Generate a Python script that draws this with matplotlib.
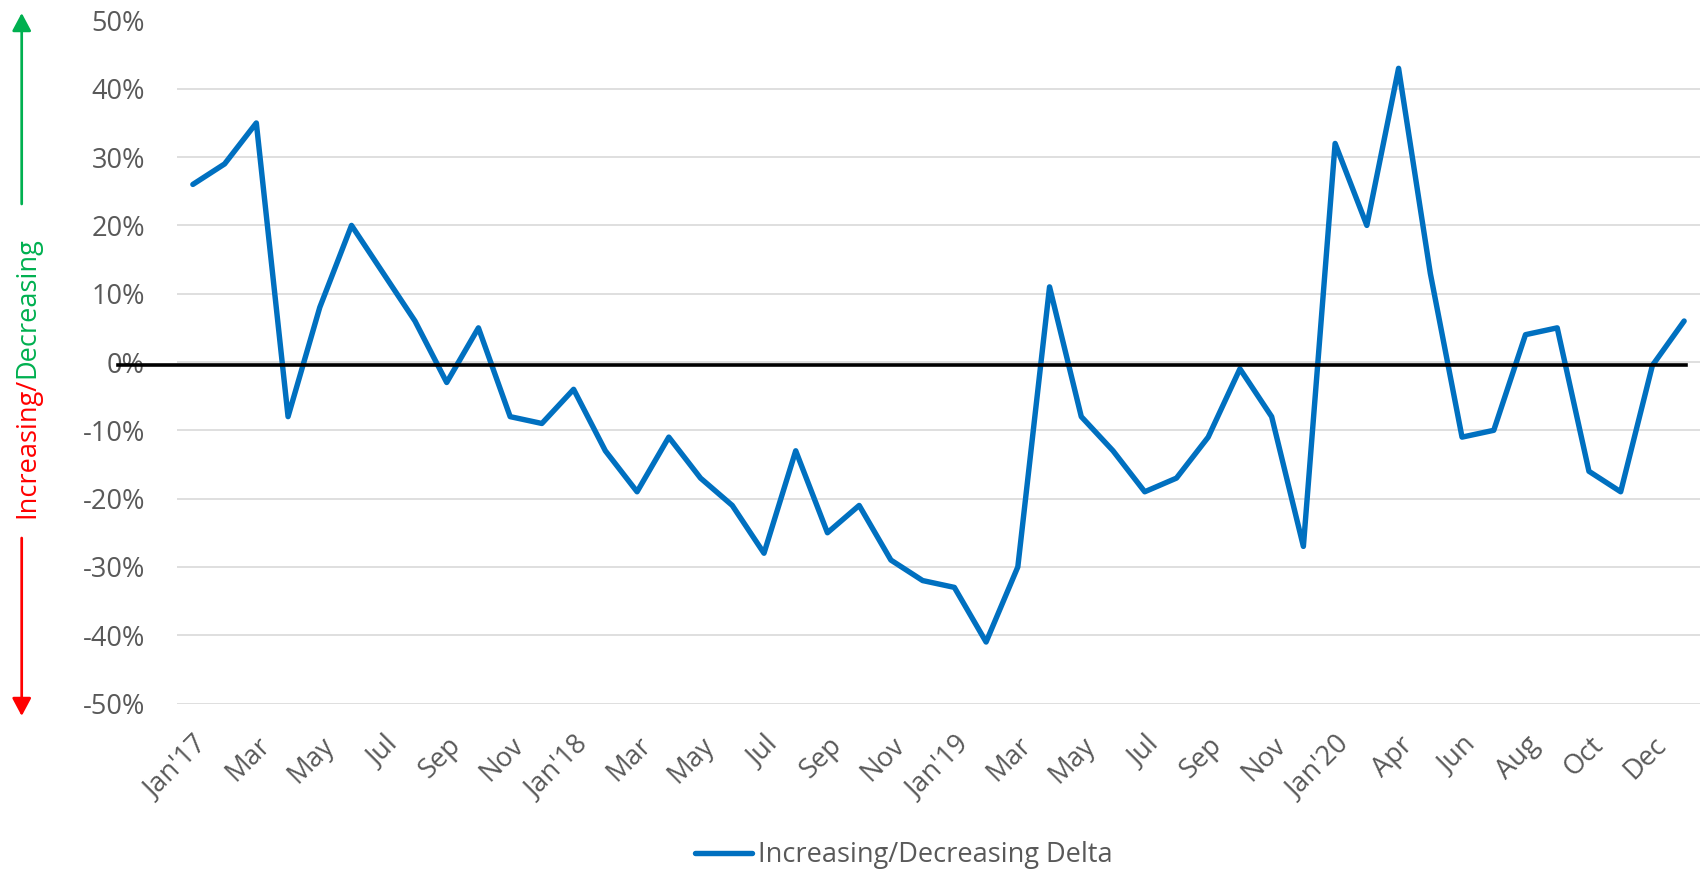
import matplotlib
matplotlib.use("Agg")
import matplotlib.pyplot as plt
from matplotlib.ticker import FuncFormatter, FixedLocator
import matplotlib.transforms as mtransforms

# ---- data ----
months = ["Jan'17", "Feb", "Mar", "Apr", "May", "Jun", "Jul", "Aug", "Sep", "Oct", "Nov", "Dec",
          "Jan'18", "Feb", "Mar", "Apr", "May", "Jun", "Jul", "Aug", "Sep", "Oct", "Nov", "Dec",
          "Jan'19", "Feb", "Mar", "Apr", "May", "Jun", "Jul", "Aug", "Sep", "Oct", "Nov", "Dec",
          "Jan'20", "Feb", "Apr", "May", "Jun", "Jul", "Aug", "Sep", "Oct", "Nov", "Dec", "Jan'21"]
delta = [26, 29, 35, -8, 8, 20, 13, 6, -3, 5, -8, -9,
         -4, -13, -19, -11, -17, -21, -28, -13, -25, -21, -29, -32,
         -33, -41, -30, 11, -8, -13, -19, -17, -11, -1, -8, -27,
         32, 20, 43, 13, -11, -10, 4, 5, -16, -19, -0.5, 6]
y_ticks = [50, 40, 30, 20, 10, 0, -10, -20, -30, -40, -50]
series_name = "Increasing/Decreasing Delta"
zero_ref = -0.4

plt.rcParams['font.family'] = ['Open Sans', 'DejaVu Sans']
FS = 19.5
GRAY = '#595959'

W, H = 1702, 872
fig = plt.figure(figsize=(W / 100, H / 100), dpi=100)
ax = fig.add_axes([177 / W, 1 - 703.5 / H, (1700 - 177) / W, (703.5 - 20.5) / H])

x = list(range(len(delta)))
line, = ax.plot(x, delta, color='#0070C0', lw=3.9, solid_joinstyle='round',
                solid_capstyle='round', label=series_name, zorder=3)

ax.set_xlim(-0.5, len(delta) - 0.5)
ax.set_ylim(min(y_ticks), max(y_ticks))
ax.yaxis.set_major_locator(FixedLocator(y_ticks))
ax.yaxis.set_major_formatter(FuncFormatter(lambda v, p: f"{v:.0f}%"))
ax.grid(axis='y', color='#D9D9D9', lw=1.2, zorder=0)
ax.set_axisbelow(True)
for s in ax.spines.values():
    s.set_visible(False)

tick_idx = list(range(0, len(months) - 1, 2))
ax.set_xticks(tick_idx)
ax.set_xticklabels([months[i] for i in tick_idx], rotation=45, ha='right',
                   rotation_mode='anchor', fontsize=FS, color=GRAY)
ax.tick_params(axis='x', length=0, pad=20)
ax.tick_params(axis='y', length=0, pad=23, labelsize=FS, labelcolor=GRAY)

# black reference line near zero
trans = mtransforms.blended_transform_factory(ax.transAxes, ax.transData)
ax.plot([-0.0387, 0.9908], [zero_ref, zero_ref], color='black', lw=2.6,
        transform=trans, clip_on=False, zorder=4)

# legend
fig.legend(handles=[line], loc='center', bbox_to_anchor=(0.531, 0.019),
           frameon=False, fontsize=FS, handlelength=2.1, handletextpad=0.2,
           borderpad=0, labelcolor=GRAY)

# left annotation
red_t = fig.text(27 / W, 1 - 518 / H, "Increasing/", rotation=90, color='#FF0000',
                 ha='center', va='bottom', fontsize=FS)
ax.annotate("Decreasing", xy=(0.5, 1.0), xycoords=red_t, rotation=90,
            color='#00B050', ha='center', va='bottom', fontsize=FS,
            annotation_clip=False)

ax.annotate('', xy=(21.7, H - 13), xycoords='figure pixels',
            xytext=(21.7, H - 204), textcoords='figure pixels',
            arrowprops=dict(arrowstyle='-|>,head_length=1.08,head_width=0.576',
                            mutation_scale=10, color='#00B050', lw=1.95,
                            shrinkA=0, shrinkB=0))
ax.annotate('', xy=(21.7, H - 716), xycoords='figure pixels',
            xytext=(21.7, H - 538), textcoords='figure pixels',
            arrowprops=dict(arrowstyle='-|>,head_length=1.08,head_width=0.576',
                            mutation_scale=10, color='#FF0000', lw=1.95,
                            shrinkA=0, shrinkB=0))

fig.savefig('out.png', dpi=100)
